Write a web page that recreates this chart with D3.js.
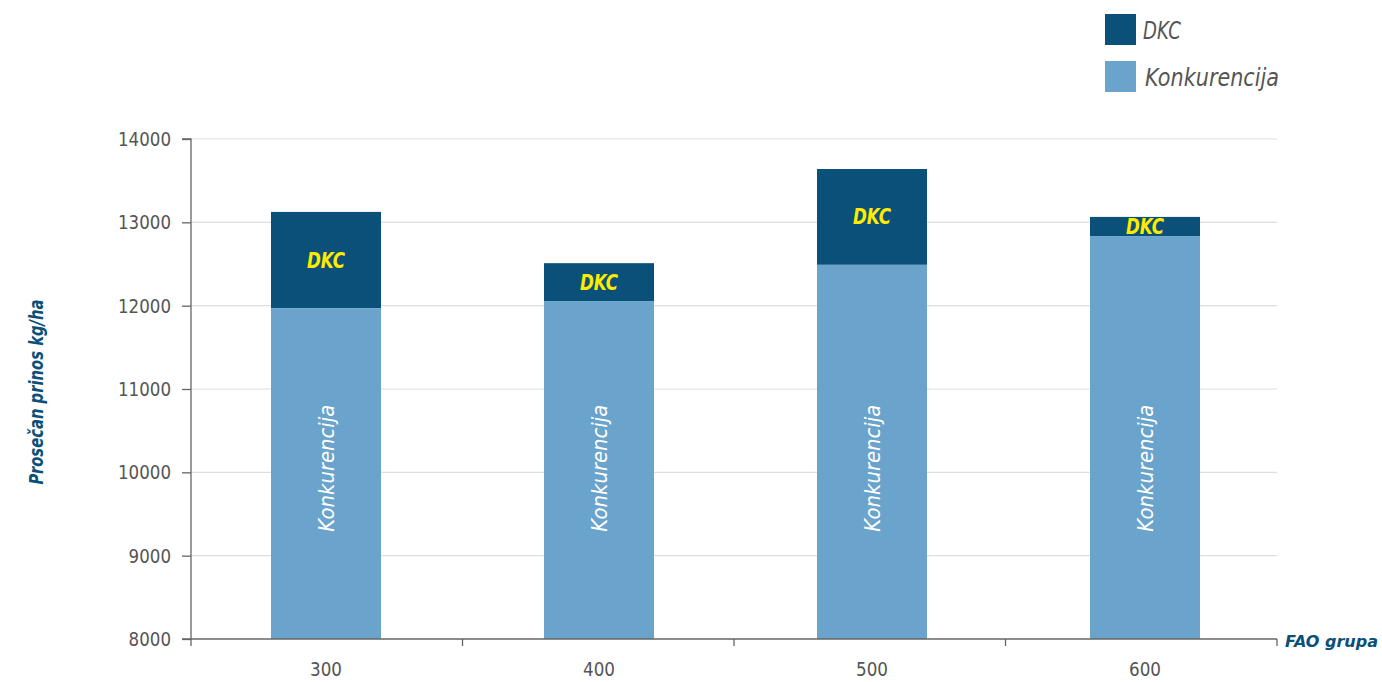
<!DOCTYPE html>
<html><head><meta charset="utf-8">
<script src="https://cdn.jsdelivr.net/npm/d3@7"></script>
<style>
html,body{margin:0;padding:0;background:#fff;overflow:hidden;}
text{font-family:"DejaVu Sans",sans-serif;}
</style></head>
<body><svg id="c" width="1382" height="682"></svg>
<script>
const categories = ["300","400","500","600"];
const konkurencija = [11970, 12055, 12490, 12835];
const dkc = [13125, 12510, 13640, 13065];
const yTicks = [8000, 9000, 10000, 11000, 12000, 13000, 14000];
const seriesNames = ["DKC","Konkurencija"];
const colors = {DKC:"#0a5078", Konkurencija:"#6aa3cb"};

const svg = d3.select("#c");
const m = {l:191, r:1277, t:139, b:639};
const x = d3.scaleBand().domain(categories).range([108, 1363]).padding(0.597);
const xb = d3.scaleBand().domain(categories).range([m.l, m.r]);
const y = d3.scaleLinear().domain([8000, 14000]).range([m.b, m.t]);

// gridlines
svg.append("g").selectAll("line").data(yTicks.slice(1)).join("line")
  .attr("x1", m.l).attr("x2", m.r).attr("y1", d=>y(d)).attr("y2", d=>y(d))
  .attr("stroke", "#dedede").attr("stroke-width", 1.2);

// bars
const data = categories.map((c,i)=>({c, k:konkurencija[i], d:dkc[i]}));
svg.append("g").selectAll("rect").data(data).join("rect")
  .attr("x", d=>x(d.c)).attr("width", x.bandwidth())
  .attr("y", d=>y(d.d)).attr("height", d=>y(d.k)-y(d.d))
  .attr("fill", colors.DKC);
svg.append("g").selectAll("rect").data(data).join("rect")
  .attr("x", d=>x(d.c)).attr("width", x.bandwidth())
  .attr("y", d=>y(d.k)).attr("height", d=>y(8000)-y(d.k))
  .attr("fill", colors.Konkurencija);

// DKC labels
svg.append("g").selectAll("text").data(data).join("text")
  .attr("x", d=>x(d.c)+x.bandwidth()/2)
  .attr("y", d=>(y(d.d)+y(d.k))/2)
  .attr("dy", "0.36em").attr("text-anchor","middle")
  .attr("font-size", 21).attr("font-weight","bold").attr("font-style","italic")
  .attr("textLength", 38).attr("lengthAdjust","spacingAndGlyphs")
  .attr("fill", "#ffea00").text("DKC");

// Konkurencija labels
svg.append("g").selectAll("text").data(data).join("text")
  .attr("transform", d=>`translate(${x(d.c)+x.bandwidth()/2},${y(10050)}) rotate(-90)`)
  .attr("dy", "0.36em").attr("text-anchor","middle")
  .attr("font-size", 22).attr("font-style","italic")
  .attr("textLength", 127).attr("lengthAdjust","spacingAndGlyphs")
  .attr("fill", "#ffffff").text("Konkurencija");

// y axis
const ya = svg.append("g").attr("transform", `translate(${m.l},0)`)
  .call(d3.axisLeft(y).tickValues(yTicks).tickSize(9).tickPadding(11).tickFormat(d3.format("d")));
ya.select(".domain").attr("stroke","#666").attr("stroke-width",1.3).attr("d", `M-9,${m.t}H0V${m.b}H-9`);
ya.selectAll(".tick line").attr("stroke","#666").attr("stroke-width",1.3);
ya.selectAll(".tick text").attr("font-size", 20).attr("fill","#555").attr("font-family", null)
  .attr("textLength", d=>String(d).length*10.6).attr("lengthAdjust","spacingAndGlyphs");

// x axis
const xa = svg.append("g").attr("transform", `translate(0,${m.b})`);
xa.append("line").attr("x1", m.l).attr("x2", m.r).attr("stroke","#666").attr("stroke-width",1.3);
const bounds = categories.map(c=>xb(c)).concat([xb(categories[categories.length-1])+xb.bandwidth()]);
xa.selectAll("line.t").data(bounds).join("line").attr("class","t")
  .attr("x1", d=>d).attr("x2", d=>d).attr("y1",0).attr("y2",7)
  .attr("stroke","#666").attr("stroke-width",1.3);
xa.selectAll("text").data(categories).join("text")
  .attr("x", d=>x(d)+x.bandwidth()/2).attr("y", 37)
  .attr("text-anchor","middle").attr("font-size",20).attr("fill","#555")
  .attr("textLength", 32).attr("lengthAdjust","spacingAndGlyphs").text(d=>d);

// axis titles
svg.append("text").attr("transform","translate(36,392) rotate(-90)")
  .attr("dy","0.36em").attr("text-anchor","middle")
  .attr("font-size",20).attr("font-weight","bold").attr("font-style","italic")
  .attr("textLength", 185).attr("lengthAdjust","spacingAndGlyphs")
  .attr("fill","#0a5078").text("Prosečan prinos kg/ha");
svg.append("text").attr("x",1378).attr("y",641).attr("dy","0.36em").attr("text-anchor","end")
  .attr("font-size",16).attr("font-weight","bold").attr("font-style","italic")
  .attr("fill","#0a5078").text("FAO grupa");

// legend
const lg = svg.append("g").selectAll("g").data(seriesNames).join("g")
  .attr("transform",(d,i)=>`translate(1105,${14+i*47})`);
lg.append("rect").attr("width",31).attr("height",31).attr("fill",d=>colors[d]);
lg.append("text").attr("x",(d,i)=>i?40:38).attr("y",16).attr("dy","0.36em")
  .attr("font-size",24).attr("font-style","italic").attr("fill","#555")
  .attr("textLength",(d,i)=>i?134:38).attr("lengthAdjust","spacingAndGlyphs").text(d=>d);
</script></body></html>
